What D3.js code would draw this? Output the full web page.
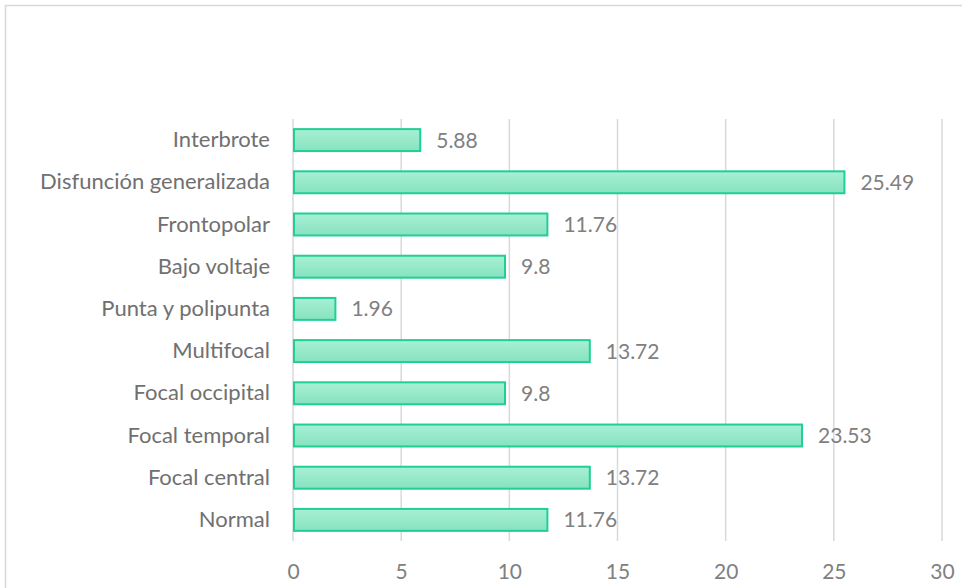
<!DOCTYPE html>
<html>
<head>
<meta charset="utf-8">
<script src="https://cdn.jsdelivr.net/npm/d3@7"></script>
<style>
  body { margin: 0; background: #fff; }
  text { font-family: Lato, "Open Sans", sans-serif; }
</style>
</head>
<body>
<div class="chart"></div>
<script>
const svgWidth = 962
const svgHeight = 588

// data
const categories = ["Interbrote", "Disfunción generalizada", "Frontopolar", "Bajo voltaje",
  "Punta y polipunta", "Multifocal", "Focal occipital", "Focal temporal", "Focal central", "Normal"]
const values = [5.88, 25.49, 11.76, 9.8, 1.96, 13.72, 9.8, 23.53, 13.72, 11.76]
const xTicks = [0, 5, 10, 15, 20, 25, 30]

const fontFam = "Lato, 'Open Sans', sans-serif"

let margin = { top: 119, right: 20, bottom: 47, left: 293 }
let width = 942 - margin.left
let height = svgHeight - margin.top - margin.bottom

let svg = d3.select(".chart").append("svg")
  .attr("width", svgWidth)
  .attr("height", svgHeight)

// outer frame
svg.append("rect")
  .attr("x", 5.5).attr("y", 5.5)
  .attr("width", 980).attr("height", 620)
  .attr("fill", "none")
  .attr("stroke", "#d9d9d9")
  .attr("stroke-width", 1.5)

let defs = svg.append("defs")
let grad = defs.append("linearGradient")
  .attr("id", "barFill")
  .attr("x1", 0).attr("y1", 0).attr("x2", 0).attr("y2", 1)
grad.append("stop").attr("offset", "0%").attr("stop-color", "#a8f0d5")
grad.append("stop").attr("offset", "100%").attr("stop-color", "#86e2bf")

let chartGroup = svg.append("g")
  .attr("transform", `translate(${margin.left}, ${margin.top})`)

let x = d3.scaleLinear().domain([0, 30]).range([0, width])
let y = d3.scaleBand().domain(categories).range([0, height]).paddingInner(0.48).paddingOuter(0.24)

// gridlines
chartGroup.selectAll(".grid")
  .data(xTicks)
  .enter()
  .append("line")
  .attr("x1", d => x(d)).attr("x2", d => x(d))
  .attr("y1", 0).attr("y2", height)
  .attr("stroke", "#d9d9d9")
  .attr("stroke-width", 1.5)

// x axis labels
let bottomAxis = d3.axisBottom(x).tickValues(xTicks).tickSize(0).tickPadding(23)
let xAxis = chartGroup.append("g")
  .attr("transform", `translate(0, ${height})`)
  .call(bottomAxis)
xAxis.select(".domain").remove()
xAxis.selectAll("text")
  .attr("font-size", 21)
  .attr("fill", "#808080")
  .style("font-family", fontFam)

// y axis labels
let leftAxis = d3.axisLeft(y).tickSize(0).tickPadding(23)
let yAxis = chartGroup.append("g").call(leftAxis)
yAxis.select(".domain").remove()
yAxis.selectAll("text")
  .attr("font-size", 22)
  .attr("fill", "#707070")
  .style("font-family", fontFam)

// bars
chartGroup.selectAll(".bar")
  .data(values)
  .enter()
  .append("rect")
  .attr("x", x(0) + 1)
  .attr("y", (d, i) => y(categories[i]))
  .attr("width", d => x(d) - x(0) - 1)
  .attr("height", y.bandwidth())
  .attr("fill", "url(#barFill)")
  .attr("stroke", "#1fcf95")
  .attr("stroke-width", 2)

// value labels
chartGroup.selectAll(".val")
  .data(values)
  .enter()
  .append("text")
  .attr("x", d => x(d) + 16)
  .attr("y", (d, i) => y(categories[i]) + y.bandwidth() / 2)
  .attr("dy", "0.36em")
  .attr("font-size", 21)
  .attr("fill", "#808080")
  .text(d => d)
</script>
</body>
</html>
